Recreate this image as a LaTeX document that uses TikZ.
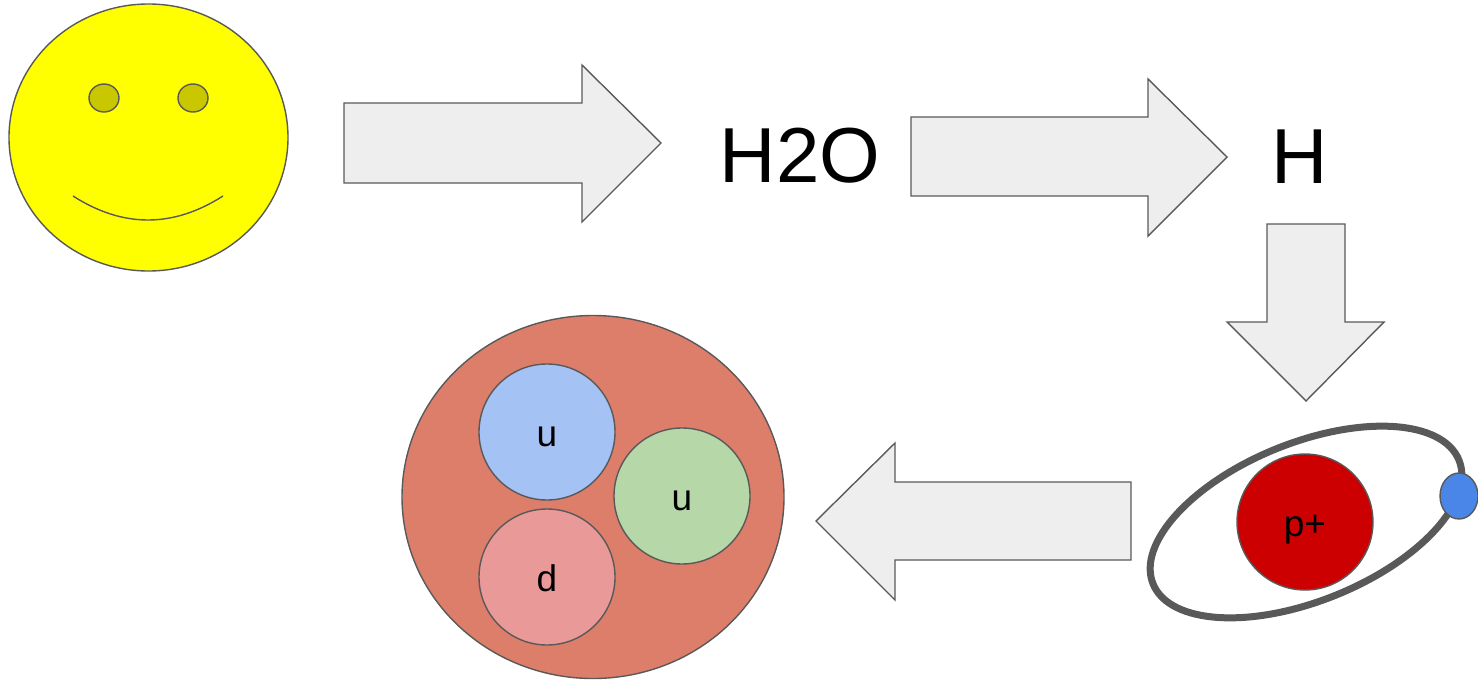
\documentclass[tikz,border=0pt]{standalone}
\usepackage{fontspec}
\setmainfont{Liberation Sans}
\usetikzlibrary{shapes.geometric}
\definecolor{edge}{HTML}{595959}
\definecolor{blockgray}{HTML}{EEEEEE}
\definecolor{faceyellow}{HTML}{FFFF00}
\definecolor{eyeolive}{HTML}{C9C800}
\definecolor{hadron}{HTML}{DD7E6B}
\definecolor{quarkblue}{HTML}{A4C2F4}
\definecolor{quarkgreen}{HTML}{B6D7A8}
\definecolor{quarkpink}{HTML}{EA9999}
\definecolor{protonred}{HTML}{CC0000}
\definecolor{electronblue}{HTML}{4A86E8}
\tikzset{
  outline/.style={draw=edge, line width=1.4pt},
  blockarrow/.style={outline, fill=blockgray, line join=miter},
  ball/.style={circle, outline, inner sep=0pt, minimum size=#1, text height=29pt, text depth=0pt,
    font=\fontsize{37}{40}\selectfont},
  oval/.style={ellipse, outline, inner sep=0pt},
  bigtext/.style={anchor=base, inner sep=0pt, font=\fontsize{78}{80}\selectfont},
}
\begin{document}
\begin{tikzpicture}[x=1pt, y=-1pt]
\path[use as bounding box] (0,0) rectangle (1478,680);

% smiley face
\node[oval, fill=faceyellow, minimum width=279pt, minimum height=267pt] (face) at (148.5,137.5) {};
\node[oval, fill=eyeolive, minimum width=30pt, minimum height=28pt] (eyeL) at (104,98) {};
\node[oval, fill=eyeolive, minimum width=30pt, minimum height=28pt] (eyeR) at (193,98) {};
\draw[outline] (73,196) .. controls (123,228) and (173,228) .. (223,196);

% block arrows
\draw[blockarrow] (344,103) -- (582,103) -- (582,65) -- (661,143) -- (582,222) -- (582,183) -- (344,183) -- cycle;
\draw[blockarrow] (911,117) -- (1148,117) -- (1148,79) -- (1227,157) -- (1148,236) -- (1148,196) -- (911,196) -- cycle;
\draw[blockarrow] (1267,224) -- (1345,224) -- (1345,322) -- (1384,322) -- (1306,401) -- (1227,322) -- (1267,322) -- cycle;
\draw[blockarrow] (1131,482) -- (895,482) -- (895,443) -- (816,521) -- (895,600) -- (895,560) -- (1131,560) -- cycle;

% molecule and element labels
\node[bigtext] (water) at (800,182) {H2O};
\node[bigtext] (hydrogen) at (1300,183) {H};

% hydrogen atom
\node[ellipse, draw=edge, line width=7pt, minimum width=330pt, minimum height=158pt, rotate=22] (orbit) at (1306,522) {};
\node[ball=136pt, fill=protonred] (proton) at (1305,522) {p+};
\node[oval, fill=electronblue, minimum width=38pt, minimum height=46pt] (electron) at (1459,496) {};

% proton with its quarks
\node[oval, fill=hadron, minimum width=382pt, minimum height=363pt] (nucleon) at (593,497) {};
\node[ball=136pt, fill=quarkblue] (up1) at (547,432) {u};
\node[ball=136pt, fill=quarkgreen] (up2) at (682,496) {u};
\node[ball=136pt, fill=quarkpink] (down) at (547,577) {d};
\end{tikzpicture}
\end{document}
